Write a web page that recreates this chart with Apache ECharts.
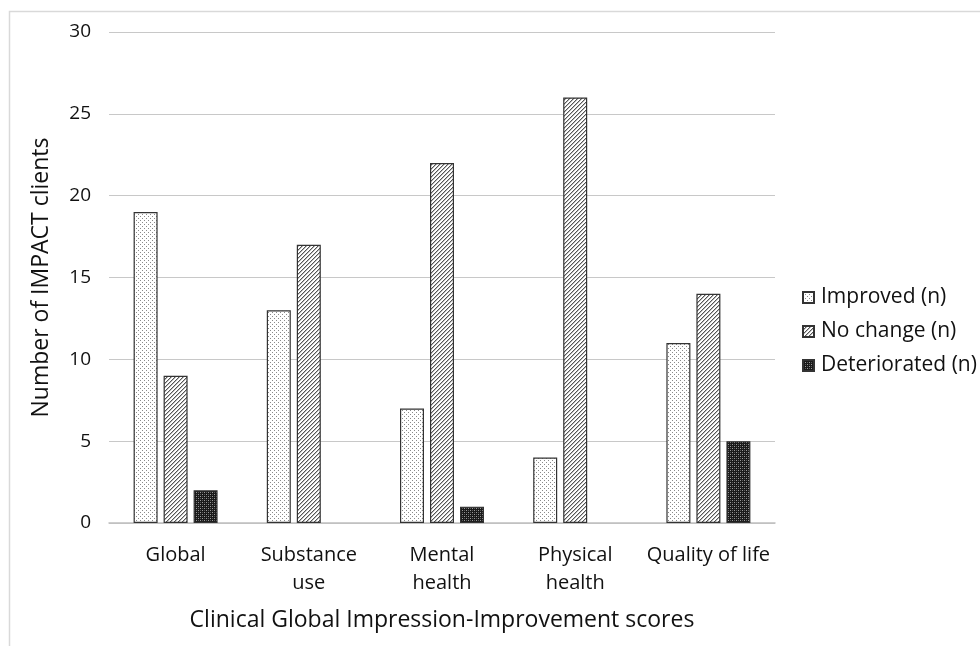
<!DOCTYPE html>
<html><head><meta charset="utf-8">
<script src="https://cdn.jsdelivr.net/npm/echarts@6/dist/echarts.min.js"></script>
<style>html,body{margin:0;padding:0;background:#fff}#c{width:980px;height:646px}</style>
</head><body><div id="c"></div>
<script>
var categories = ['Global', 'Substance\nuse', 'Mental\nhealth', 'Physical\nhealth', 'Quality of life'];
var seriesNames = ['Improved (n)', 'No change (n)', 'Deteriorated (n)'];
var improved = [19, 13, 7, 4, 11];
var noChange = [9, 17, 22, 26, 14];
var deteriorated = [2, 0, 1, 0, 5];
var yTicks = [0, 5, 10, 15, 20, 25, 30];

function pat(kind) {
  var c = document.createElement('canvas');
  var s = 4; c.width = s; c.height = s;
  var g = c.getContext('2d');
  if (kind === 0) {
    g.fillStyle = '#ffffff'; g.fillRect(0, 0, s, s);
    g.fillStyle = '#8a8a8a'; g.fillRect(0, 0, 1, 1); g.fillRect(2, 2, 1, 1);
  } else if (kind === 1) {
    g.fillStyle = '#ffffff'; g.fillRect(0, 0, s, s);
    g.fillStyle = '#555555';
    for (var i = 0; i < s; i++) { g.fillRect(s - 1 - i, i, 1, 1); }
    g.fillStyle = '#bbbbbb';
    for (var j = 0; j < s; j++) { g.fillRect((s - j) % s, j, 1, 1); }
  } else {
    g.fillStyle = '#1a1a1a'; g.fillRect(0, 0, s, s);
    g.fillStyle = '#9a9a9a'; g.fillRect(0, 0, 1, 1); g.fillRect(2, 2, 1, 1);
    g.fillStyle = '#5a5a5a'; g.fillRect(2, 0, 1, 1); g.fillRect(0, 2, 1, 1);
  }
  return { image: c, repeat: 'repeat' };
}

var data = [improved, noChange, deteriorated];
var chart = echarts.init(document.getElementById('c'), null, { renderer: 'canvas' });
var font = '"Open Sans", sans-serif';
chart.setOption({
  backgroundColor: '#ffffff',
  animation: false,
  graphic: [{ type: 'rect', shape: { x: 9.5, y: 11.5, width: 1000, height: 700 }, style: { fill: 'none', stroke: '#d9d9d9', lineWidth: 1.5 }, silent: true }],
  grid: { left: 109, right: 205, top: 32, bottom: 123 },
  legend: {
    orient: 'vertical', left: 802, top: 287, padding: 0, itemWidth: 11, itemHeight: 11, itemGap: 13,
    icon: 'rect',
    textStyle: { fontSize: 21, color: '#111', fontFamily: font, padding: [0, 0, 0, 2] },
    data: seriesNames
  },
  xAxis: {
    type: 'category', data: categories,
    axisLine: { lineStyle: { color: '#bfbfbf', width: 1.5 } },
    axisTick: { show: false },
    axisLabel: { interval: 0, fontSize: 20, color: '#111', fontFamily: font, lineHeight: 28, margin: 18 },
    name: 'Clinical Global Impression-Improvement scores', nameLocation: 'middle', nameGap: 86,
    nameTextStyle: { fontSize: 23, color: '#111', fontFamily: font }
  },
  yAxis: {
    type: 'value', min: 0, max: 30, interval: 5,
    axisLine: { show: false }, axisTick: { show: false },
    splitLine: { lineStyle: { color: '#c8c8c8', width: 1.2 } },
    axisLabel: { fontSize: 19, color: '#111', fontFamily: font, margin: 18,
      formatter: function (v) { return yTicks.indexOf(v) >= 0 ? String(v) : ''; } },
    name: 'Number of IMPACT clients', nameLocation: 'middle', nameGap: 56,
    nameTextStyle: { fontSize: 23, color: '#111', fontFamily: font }
  },
  series: seriesNames.map(function (n, i) {
    return {
      name: n, type: 'bar',
      data: data[i].map(function (v) { return v === 0 ? { value: v, itemStyle: { borderWidth: 0 } } : v; }),
      barWidth: 24, barGap: '25%',
      itemStyle: { color: pat(i), borderColor: '#333', borderWidth: 1.2 }
    };
  })
});
</script></body></html>
